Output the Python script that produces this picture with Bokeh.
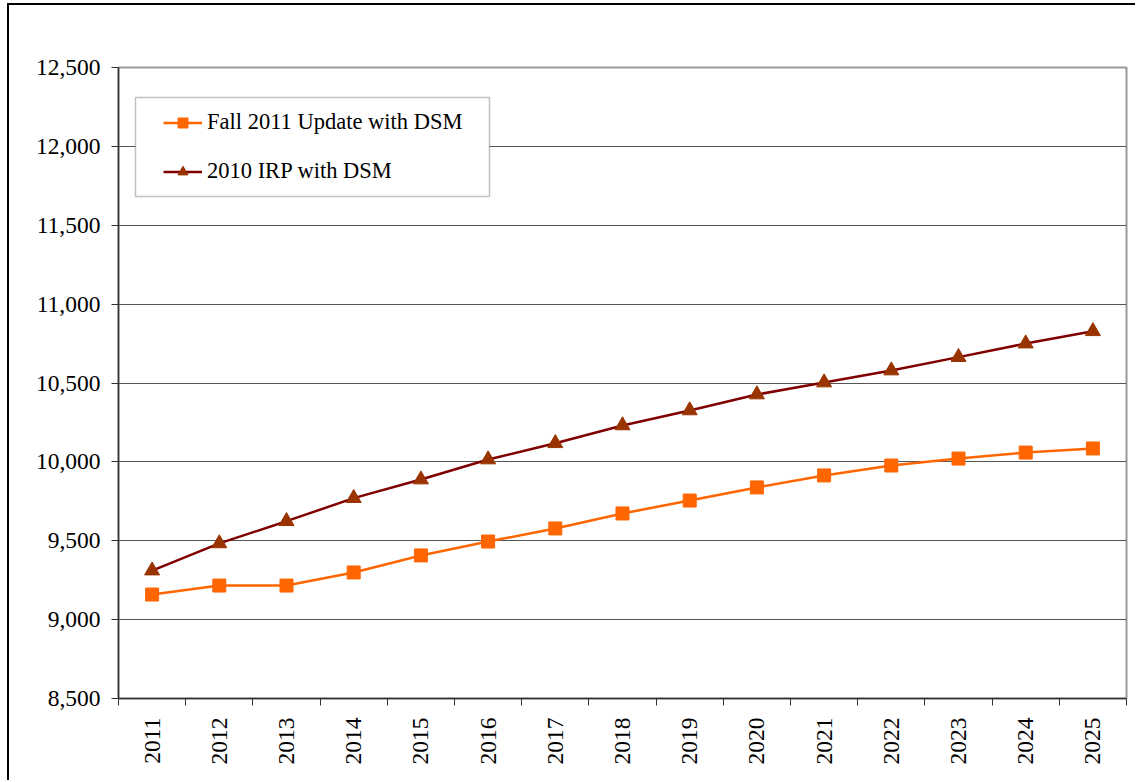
from bokeh.plotting import figure
from bokeh.models import (FixedTicker, NumeralTickFormatter, Legend, LegendItem,
                          BoxAnnotation, Range1d)
from bokeh.embed import file_html
from bokeh.resources import INLINE
import math

# Annual values, 2011-2025
years = [2011, 2012, 2013, 2014, 2015, 2016, 2017, 2018, 2019, 2020,
         2021, 2022, 2023, 2024, 2025]
fall_2011_update = [9159, 9216, 9216, 9299, 9407, 9495, 9578, 9673, 9755, 9838,
                    9914, 9977, 10021, 10059, 10085]
irp_2010 = [9311, 9483, 9624, 9770, 9888, 10015, 10118, 10231, 10326, 10427,
            10503, 10579, 10664, 10750, 10828]
y_ticks = [8500, 9000, 9500, 10000, 10500, 11000, 11500, 12000, 12500]
series_names = ["Fall 2011 Update with DSM", "2010 IRP with DSM"]

FONT = "Liberation Serif"

# the page border sits at x=7, y=3; the figure starts just inside it
OX, OY = 9, 5

p = figure(width=1137 - OX, height=782 - OY, output_backend="svg",
           toolbar_location=None,
           x_range=Range1d(years[0] - 0.5, years[-1] + 0.5),
           y_range=Range1d(y_ticks[0], y_ticks[-1]),
           min_border_left=118 - OX, min_border_right=11,
           min_border_top=67 - OY, min_border_bottom=84)
p.styles = {"border-left": "2px solid black", "border-top": "2px solid black",
            "margin-left": "7px", "margin-top": "3px"}
p.background_fill_color = "white"
p.border_fill_color = "white"
p.outline_line_color = "#9a9a9a"
p.outline_line_width = 2

# y axis
yax = p.yaxis[0]
yax.ticker = FixedTicker(ticks=y_ticks)
yax.formatter = NumeralTickFormatter(format="0,0")
yax.major_tick_out = 7
yax.major_tick_in = 0
yax.minor_tick_out = 0
yax.minor_tick_in = 0
yax.major_label_standoff = 11
yax.axis_line_color = "#333333"
yax.axis_line_width = 1.5
yax.major_tick_line_color = "#333333"

# x axis: labels at year centres, tick marks between years
xax = p.xaxis[0]
boundaries = [y - 0.5 for y in years] + [years[-1] + 0.5]
xax.ticker = FixedTicker(ticks=years, minor_ticks=boundaries)
xax.major_label_overrides = {y: str(y) for y in years}
xax.major_label_orientation = math.pi / 2
xax.major_tick_out = 0
xax.major_tick_in = 0
xax.minor_tick_out = 7
xax.minor_tick_in = 0
xax.minor_tick_line_color = "#333333"
xax.major_label_standoff = 12
xax.axis_line_color = "#333333"
xax.axis_line_width = 1.5

for ax in (xax, yax):
    ax.major_label_text_font = FONT
    ax.major_label_text_font_size = "23.5px"
    ax.major_label_text_color = "black"

p.xgrid.visible = False
p.ygrid.ticker = FixedTicker(ticks=y_ticks[1:-1])
p.ygrid.grid_line_color = "#555555"
p.ygrid.grid_line_width = 1

# series
l1 = p.line(years, fall_2011_update, line_color="#FF6600", line_width=2.5)
m1 = p.scatter(years, fall_2011_update, marker="square", size=13,
               fill_color="#FF6600", line_color="#FF6600")
l2 = p.line(years, irp_2010, line_color="#800000", line_width=2.5)
m2 = p.scatter(years, irp_2010, marker="triangle", size=15,
               fill_color="#993300", line_color="#993300")

# legend frame
p.add_layout(BoxAnnotation(left=133 - OX, right=487 - OX, top=95 - OY, bottom=194 - OY,
                           left_units="canvas", right_units="canvas",
                           top_units="canvas", bottom_units="canvas",
                           fill_color="white", fill_alpha=1,
                           line_color="#333333", line_width=1.5))

legend = Legend(items=[LegendItem(label=series_names[0], renderers=[l1, m1]),
                       LegendItem(label=series_names[1], renderers=[l2, m2])],
                location=(45, 514), padding=0, margin=0, spacing=23,
                glyph_width=39, glyph_height=25, label_height=25,
                label_standoff=5, border_line_alpha=0,
                background_fill_alpha=0,
                label_text_font=FONT, label_text_font_size="22.5px",
                label_text_color="black")
p.add_layout(legend)

open("out.html", "w").write(file_html(p, INLINE))
